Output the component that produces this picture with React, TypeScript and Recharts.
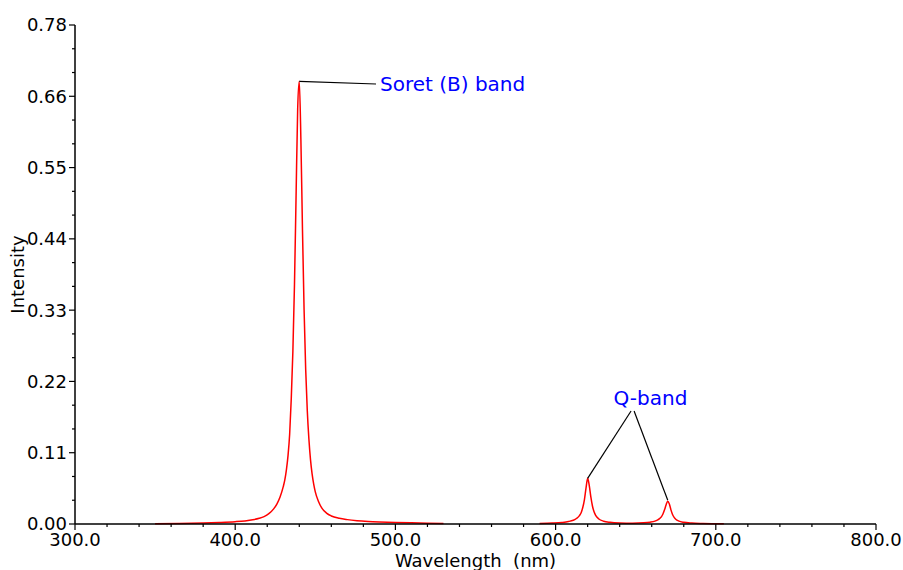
import React from "react";
import { LineChart, Line, XAxis, YAxis, ReferenceLine, ReferenceDot, Label } from "recharts";

// Soret (B) band region
const soretWavelength = [
  350, 365, 380, 390, 400, 406, 411, 415, 418, 421, 424, 426, 428, 430, 431, 432, 433, 434, 435, 436,
  437, 438, 439, 440, 441, 442, 443, 444, 445, 446, 447, 448, 449, 450, 452, 454, 457, 460, 465, 470,
  476, 483, 490, 500, 510, 520, 530,
];
const soretIntensity = [
  0.0005, 0.0009, 0.0016, 0.0024, 0.0036, 0.0048, 0.0065, 0.0088, 0.0115, 0.016, 0.0235, 0.031, 0.042,
  0.058, 0.069, 0.085, 0.107, 0.14, 0.195, 0.268, 0.372, 0.51, 0.645, 0.688, 0.598, 0.457, 0.333, 0.24,
  0.176, 0.132, 0.1, 0.078, 0.062, 0.05, 0.035, 0.025, 0.017, 0.0125, 0.0088, 0.0068, 0.0052, 0.004,
  0.0032, 0.0024, 0.0018, 0.0013, 0.0009,
];

// Q-band region
const qWavelength = [
  590, 598, 604, 608, 611, 613, 615, 616, 617, 618, 619, 620, 621, 622, 623, 624, 625, 627, 630, 634,
  640, 648, 655, 659, 662, 664, 666, 667, 668, 669, 670, 671, 672, 673, 674, 675, 677, 680, 685, 692, 705,
];
const qIntensity = [
  0.0008, 0.0014, 0.0024, 0.0038, 0.0058, 0.0085, 0.0135, 0.018, 0.026, 0.038, 0.056, 0.071, 0.06,
  0.042, 0.028, 0.019, 0.0135, 0.0078, 0.0044, 0.0026, 0.0016, 0.0013, 0.0018, 0.0028, 0.0045, 0.0068,
  0.011, 0.0155, 0.022, 0.03, 0.0355, 0.031, 0.022, 0.0148, 0.0102, 0.0074, 0.0045, 0.0026, 0.0014,
  0.0008, 0.0003,
];

const xMajorLabels = ["300.0", "400.0", "500.0", "600.0", "700.0", "800.0"];
const yMajorLabels = ["0.00", "0.11", "0.22", "0.33", "0.44", "0.55", "0.66", "0.78"];

const Y_MAX = 0.7756;
const FONT = "DejaVu Sans";

const data = [
  ...soretWavelength.map((wl, i) => ({ wl, intensity: soretIntensity[i] })),
  { wl: 560, intensity: null },
  ...qWavelength.map((wl, i) => ({ wl, intensity: qIntensity[i] })),
];

const xTicks: number[] = [];
for (let v = 300; v <= 800; v += 20) xTicks.push(v);
const yTicks: number[] = [];
for (let i = 0; i <= 21; i++) yTicks.push(Number(((i * Y_MAX) / 21).toFixed(6)));

function XTick(props: any) {
  const { x, y, payload } = props;
  const v = Math.round(payload.value);
  const major = v % 100 === 0;
  return (
    <g>
      <line x1={x} y1={y} x2={x} y2={y + (major ? 6 : 3)} stroke="#000" strokeWidth={1.2} />
      {major && (
        <text x={x} y={y + 22} textAnchor="middle" fontSize={18} fontFamily={FONT} fill="#000">
          {xMajorLabels[(v - 300) / 100]}
        </text>
      )}
    </g>
  );
}

function YTick(props: any) {
  const { x, y, payload } = props;
  const idx = yTicks.findIndex((t) => Math.abs(t - payload.value) < 1e-5);
  const major = idx % 3 === 0;
  return (
    <g>
      <line x1={x} y1={y} x2={x - (major ? 6 : 3)} y2={y} stroke="#000" strokeWidth={1.2} />
      {major && (
        <text x={x - 8} y={y} dy="0.36em" textAnchor="end" fontSize={18} fontFamily={FONT} fill="#000">
          {yMajorLabels[idx / 3]}
        </text>
      )}
    </g>
  );
}

export default function App() {
  return (
    <div style={{ position: "absolute", left: 0, top: 0, background: "#fff", fontFamily: FONT }}>
      <LineChart width={903} height={570} data={data} margin={{ top: 25, right: 27, bottom: 0, left: 15 }}>
        <XAxis
          type="number"
          dataKey="wl"
          domain={[300, 800]}
          ticks={xTicks}
          interval={0}
          tickSize={0}
          tickMargin={0}
          tickLine={false}
          tick={XTick}
          axisLine={{ stroke: "#000", strokeWidth: 1.5 }}
          height={46}
        >
          <Label
            value={"Wavelength\u00a0 (nm)"}
            position="insideBottom"
            offset={3}
            fontSize={18}
            fontFamily={FONT}
            fill="#000"
          />
        </XAxis>
        <YAxis
          type="number"
          domain={[0, Y_MAX]}
          ticks={yTicks}
          interval={0}
          tickSize={0}
          tickMargin={0}
          tickLine={false}
          tick={YTick}
          axisLine={{ stroke: "#000", strokeWidth: 1.5 }}
          width={60}
        >
          <Label
            value="Intensity"
            angle={-90}
            position="insideLeft"
            offset={3}
            fontSize={18}
            fontFamily={FONT}
            fill="#000"
            style={{ textAnchor: "middle" }}
          />
        </YAxis>
        <Line
          type="monotone"
          dataKey="intensity"
          stroke="#ff0000"
          strokeWidth={1.5}
          dot={false}
          activeDot={false}
          isAnimationActive={false}
        />
        <ReferenceLine
          segment={[
            { x: 440, y: 0.688 },
            { x: 487.9, y: 0.6839 },
          ]}
          stroke="#000"
          strokeWidth={1.2}
        />
        <ReferenceLine
          segment={[
            { x: 647.1, y: 0.1756 },
            { x: 620, y: 0.071 },
          ]}
          stroke="#000"
          strokeWidth={1.2}
        />
        <ReferenceLine
          segment={[
            { x: 649, y: 0.1756 },
            { x: 670, y: 0.037 },
          ]}
          stroke="#000"
          strokeWidth={1.2}
        />
        <ReferenceDot
          x={487.9}
          y={0.6839}
          r={0}
          fill="none"
          stroke="none"
          label={{ value: "Soret (B) band", position: "right", offset: 4, fill: "#0000ff", fontSize: 20, fontFamily: FONT }}
        />
        <ReferenceDot
          x={659.2}
          y={0.1954}
          r={0}
          fill="none"
          stroke="none"
          label={{ value: "Q-band", position: "center", fill: "#0000ff", fontSize: 20, fontFamily: FONT }}
        />
      </LineChart>
    </div>
  );
}
